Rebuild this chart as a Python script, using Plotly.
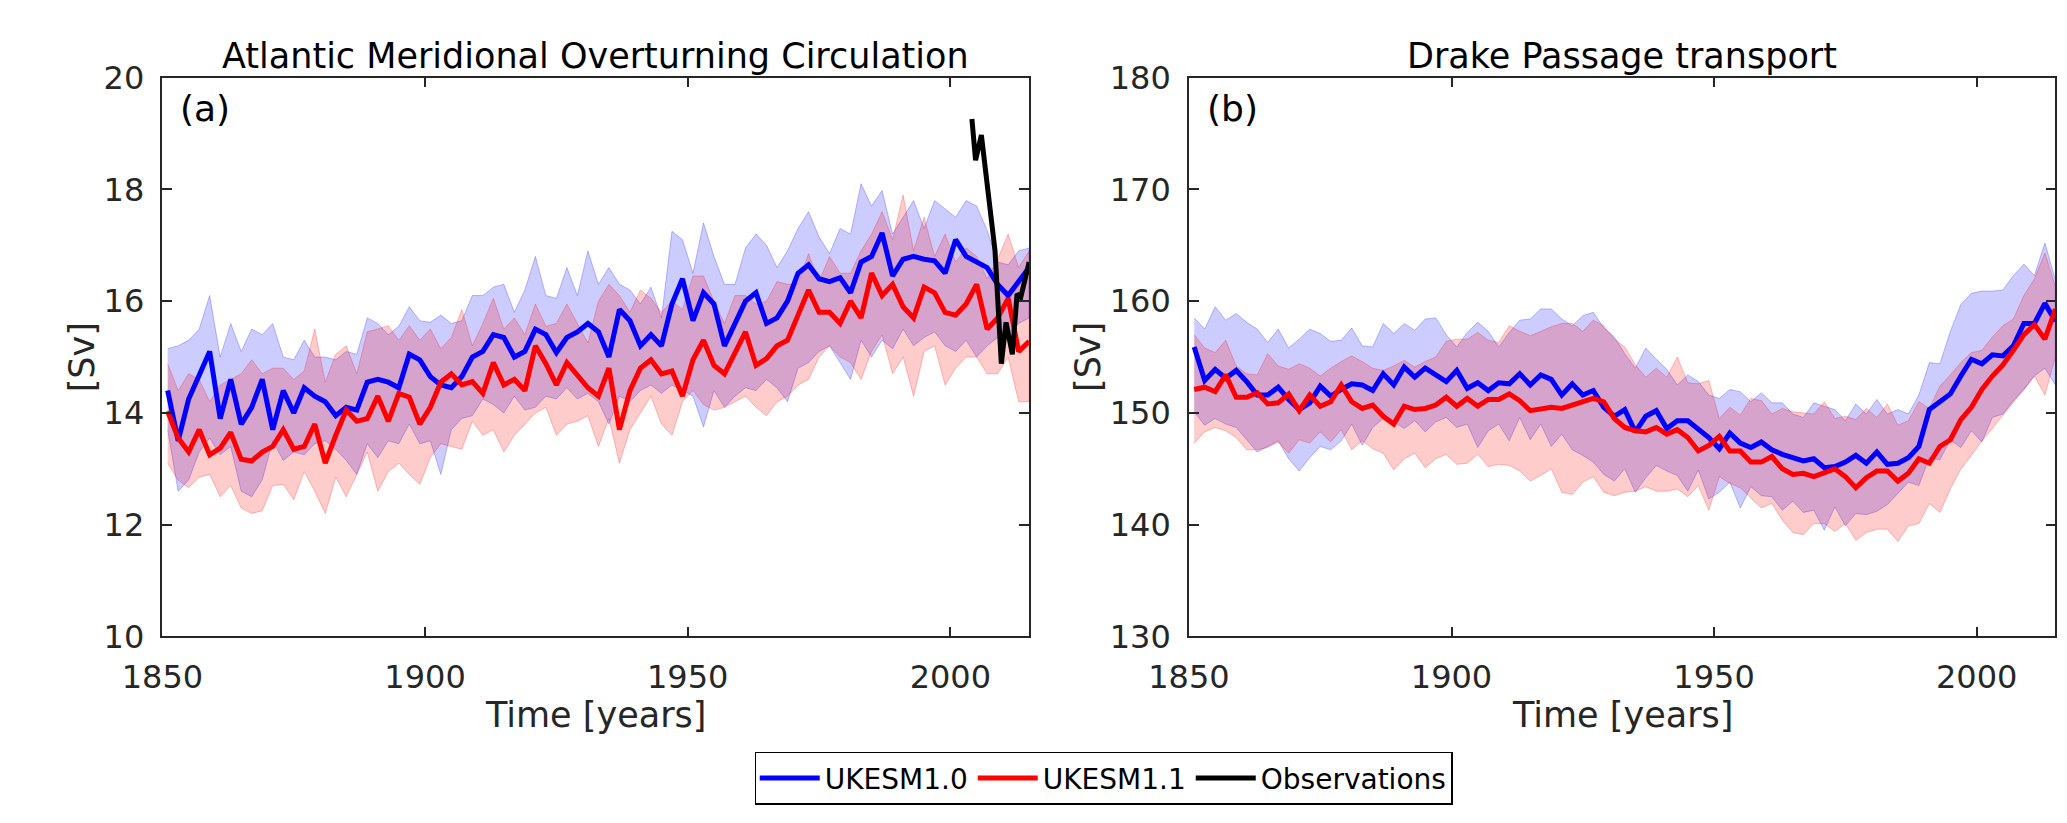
import plotly.graph_objects as go

# years (2-year sampling of the annual series)
years = list(range(1851, 2016, 2))

# --- (a) AMOC [Sv] ---
amoc_ukesm10 = [14.40, 13.5, 14.25, 14.65, 15.1, 13.9, 14.6, 13.8, 14.1, 14.6, 13.7, 14.4, 14.0, 14.45, 14.3,
                14.2, 13.95, 14.1, 14.05, 14.55, 14.6, 14.55, 14.45, 15.05, 14.95, 14.65, 14.5, 14.45, 14.65,
                15.0, 15.1, 15.4, 15.35, 15.0, 15.1, 15.5, 15.4, 15.08, 15.35, 15.45, 15.6,
                15.45, 15.0, 15.85, 15.65, 15.2, 15.4, 15.2, 15.95, 16.4, 15.65, 16.15, 15.95, 15.2, 15.6,
                16.0, 16.15, 15.6, 15.7, 16.0, 16.5, 16.65, 16.4, 16.35, 16.42, 16.15, 16.7, 16.8, 17.22,
                16.45, 16.75, 16.8, 16.75, 16.72, 16.5, 17.1, 16.8, 16.7, 16.6, 16.3, 16.1, 16.35, 16.6]
amoc_ukesm10_hi = [15.15, 15.2, 15.3, 15.5, 16.1, 15.0, 15.6, 15.1, 15.5, 15.4, 15.6, 15.0, 14.95, 15.3, 15.0,
                   15.0, 14.95, 15.1, 15.05, 15.7, 15.6, 15.4, 15.55, 15.9, 15.65, 15.62, 15.75, 15.6, 15.65,
                   16.1, 16.1, 16.25, 16.3, 15.8, 16.2, 16.8, 16.1, 16.05, 16.6, 16.1, 16.9,
                   16.3, 16.6, 16.3, 16.2, 15.95, 16.25, 15.7, 17.25, 17.1, 16.5, 17.4, 16.8, 16.3, 16.3,
                   16.95, 17.2, 17.0, 16.6, 16.9, 17.3, 17.6, 17.15, 16.85, 17.3, 17.2, 18.1, 17.7, 17.98,
                   17.2, 17.5, 17.8, 17.3, 17.8, 17.65, 17.5, 17.8, 17.7, 17.27, 16.7, 16.65, 16.9, 16.95]
amoc_ukesm10_lo = [13.7, 12.6, 12.8, 13.3, 13.55, 13.25, 13.4, 12.6, 12.5, 12.8, 13.5, 13.15, 13.3, 13.25, 13.45,
                   13.5, 13.35, 13.15, 12.9, 13.45, 13.2, 13.5, 13.45, 13.8, 13.45, 13.5, 12.9, 13.7, 13.9,
                   13.95, 14.25, 14.15, 14.0, 14.3, 14.05, 14.1, 14.3, 14.25, 14.45, 14.25, 14.35,
                   14.2, 13.8, 14.3, 14.2, 14.4, 14.5, 14.35, 14.5, 14.4, 14.3, 13.75, 14.4, 14.1, 14.3,
                   14.45, 14.4, 14.6, 14.45, 14.2, 14.8, 14.9, 15.1, 15.2, 14.9, 14.6, 15.3, 15.0, 15.3,
                   15.15, 15.5, 15.2, 15.35, 15.45, 15.2, 15.1, 15.3, 15.0, 15.2, 15.35, 15.4, 15.6, 15.7]
amoc_ukesm11 = [14.03, 13.55, 13.3, 13.7, 13.25, 13.37, 13.65, 13.17, 13.14, 13.3, 13.4, 13.7, 13.35, 13.4, 13.8,
                13.1, 13.6, 14.05, 13.85, 13.9, 14.3, 13.85, 14.35, 14.28, 13.8, 14.1, 14.55, 14.7, 14.5,
                14.56, 14.35, 14.9, 14.5, 14.6, 14.4, 15.2, 14.88, 14.5, 14.9, 14.68, 14.45,
                14.3, 14.8, 13.7, 14.4, 14.8, 14.95, 14.7, 14.75, 14.3, 14.95, 15.3, 14.85, 14.7, 15.1,
                15.45, 14.85, 14.97, 15.2, 15.3, 15.75, 16.2, 15.8, 15.8, 15.6, 16.0, 15.7, 16.5, 16.1,
                16.3, 15.9, 15.7, 16.25, 16.15, 15.8, 15.75, 15.95, 16.3, 15.5, 15.7, 16.05, 15.1, 15.28]
amoc_ukesm11_hi = [14.88, 14.4, 14.7, 14.6, 14.2, 14.5, 14.6, 14.7, 14.95, 14.7, 14.8, 14.8, 14.6, 14.75, 15.5,
                   14.55, 15.05, 15.2, 14.7, 15.45, 15.5, 15.56, 15.3, 15.56, 15.3, 15.5, 15.15, 15.35, 15.85,
                   15.2, 15.6, 16.05, 15.5, 15.7, 15.4, 15.95, 15.55, 15.6, 15.95, 15.6, 15.25,
                   16.0, 16.3, 16.1, 15.8, 16.2, 16.05, 15.8, 16.0, 15.85, 16.45, 16.45, 16.0, 15.6, 16.1,
                   16.1, 15.95, 16.0, 16.35, 16.3, 16.3, 16.85, 16.35, 16.8, 16.5, 16.5, 16.9, 17.2, 17.6,
                   17.1, 17.9, 16.9, 17.5, 16.8, 17.2, 16.7, 16.95, 16.8, 16.4, 16.75, 17.2, 16.6, 16.9]
amoc_ukesm11_lo = [13.1, 12.8, 12.66, 12.85, 12.9, 12.5, 12.7, 12.3, 12.2, 12.25, 12.7, 12.72, 12.45, 12.95, 12.6,
                   12.2, 12.85, 12.5, 12.9, 13.3, 12.6, 12.95, 13.1, 12.9, 12.72, 13.2, 13.45, 13.4, 13.35,
                   13.85, 13.6, 13.7, 13.3, 13.6, 13.8, 14.0, 14.1, 13.6, 13.8, 13.85, 13.95,
                   13.4, 13.9, 13.1, 13.7, 14.0, 14.3, 13.8, 13.6, 14.2, 14.4, 14.15, 14.05, 14.1, 14.2,
                   14.3, 14.1, 13.95, 14.2, 14.3, 14.5, 14.6, 15.0, 15.2, 15.0, 14.9, 14.6, 15.1, 15.4,
                   14.7, 15.0, 14.3, 15.1, 15.2, 14.5, 14.8, 15.0, 15.0, 14.7, 14.7, 15.0, 14.2, 14.2]

# RAPID observations
obs_years = [2004.1, 2004.8, 2005.9, 2007.3, 2008.5, 2009.7, 2010.6, 2011.8, 2012.7, 2013.4, 2015.0]
obs_amoc = [19.26, 18.52, 18.97, 17.9, 16.9, 14.88, 15.62, 15.05, 16.13, 16.07, 16.7]

# --- (b) Drake Passage transport [Sv] ---
drake_ukesm10 = [155.9, 152.9, 153.9, 153.1, 153.8, 152.8, 151.6, 151.6, 152.3, 151.2, 150.3, 150.9, 152.4, 151.5,
                 152.1, 152.6, 152.5, 152.0, 153.5, 152.5, 154.1, 153.2, 154.0, 153.4, 152.8, 153.8, 152.2, 152.7,
                 152.0, 152.7, 152.6, 153.5, 152.5, 153.4, 153.0, 151.6, 152.6, 151.6, 152.0, 150.5, 149.7,
                 150.3, 148.3, 149.7, 150.2, 148.6, 149.3, 149.3, 148.6, 147.8, 146.8, 148.2, 147.3, 146.9, 147.4,
                 146.7, 146.3, 146.0, 145.7, 145.9, 145.1, 145.2, 145.6, 146.2, 145.5, 146.5, 145.4, 145.5, 146.0,
                 147.0, 150.3, 151.0, 151.7, 153.3, 154.8, 154.4, 155.2, 155.1, 156.0, 158.0, 158.0, 159.8, 158.2]
drake_ukesm10_hi = [158.5, 157.5, 159.5, 158.3, 158.9, 158.1, 157.5, 156.3, 157.5, 155.8, 156.6, 157.5, 157.1, 156.4,
                    156.5, 157.6, 156.0, 155.9, 158.0, 157.1, 158.0, 157.4, 158.4, 158.5, 157.0, 155.9, 157.2, 158.1,
                    157.3, 155.9, 157.2, 158.3, 158.4, 159.3, 159.3, 158.4, 157.8, 158.7, 159.0, 157.6, 156.8,
                    155.3, 154.0, 155.8, 154.8, 153.9, 152.5, 153.4, 152.8, 151.6, 151.3, 152.1, 151.9, 151.0, 151.8,
                    150.9, 150.9, 149.9, 149.6, 150.9, 150.6, 150.3, 149.3, 150.8, 149.9, 151.2, 149.9, 150.3, 149.9,
                    151.6, 154.5, 154.4, 157.3, 159.7, 160.7, 160.9, 160.9, 161.0, 162.3, 163.3, 162.3, 165.2, 161.9]
drake_ukesm10_lo = [150.1, 148.9, 149.5, 149.0, 148.7, 147.6, 146.5, 147.0, 147.5, 145.9, 144.8, 146.0, 147.0, 146.7,
                    147.5, 149.0, 147.1, 148.7, 149.5, 149.2, 148.6, 149.3, 148.3, 149.2, 149.6, 148.7, 149.0, 146.9,
                    148.4, 149.0, 147.5, 149.6, 147.6, 149.0, 147.0, 148.1, 146.7, 146.2, 145.6, 144.5, 143.9,
                    145.0, 142.9, 144.2, 145.3, 144.8, 144.4, 143.0, 144.9, 142.3, 142.9, 143.8, 141.5, 143.4, 142.6,
                    142.5, 141.3, 142.1, 141.1, 141.3, 139.5, 141.6, 139.9, 141.0, 140.9, 141.2, 141.8, 142.8, 143.8,
                    143.5, 146.0, 145.8, 147.6, 146.9, 148.4, 147.4, 149.6, 149.9, 151.1, 152.1, 153.3, 154.0, 152.5]
drake_ukesm11 = [152.1, 152.3, 151.9, 153.4, 151.4, 151.4, 151.8, 150.8, 150.9, 151.7, 150.2, 151.6, 150.6, 151.0,
                 152.5, 151.0, 150.4, 150.7, 149.7, 149.0, 150.6, 150.3, 150.4, 150.7, 151.4, 150.6, 151.3, 150.6,
                 151.2, 151.2, 151.7, 151.1, 150.2, 150.4, 150.5, 150.4, 150.7, 151.0, 151.3, 151.0, 149.5,
                 148.7, 148.4, 148.3, 148.7, 148.1, 148.5, 147.8, 146.6, 147.1, 147.9, 146.6, 146.6, 145.6, 145.6,
                 146.1, 145.0, 144.5, 144.6, 144.3, 144.7, 145.0, 144.3, 143.3, 144.2, 144.8, 144.8, 143.9, 144.6,
                 145.9, 145.5, 147.0, 147.6, 149.4, 150.5, 152.1, 153.3, 154.3, 155.6, 157.0, 157.9, 156.6, 159.3]
drake_ukesm11_hi = [157.0, 155.8, 155.4, 156.5, 154.2, 153.5, 153.4, 155.3, 154.2, 153.9, 154.4, 154.0, 153.3, 154.0,
                    154.6, 155.1, 154.6, 154.0, 153.8, 154.2, 154.7, 154.1, 154.6, 155.0, 156.4, 156.6, 156.6, 157.2,
                    156.5, 156.3, 157.8, 157.3, 156.9, 157.3, 157.7, 158.0, 158.0, 157.3, 158.3, 157.8, 156.6,
                    155.9, 154.3, 153.2, 154.0, 153.2, 155.0, 152.7, 152.6, 152.9, 149.5, 150.5, 149.8, 151.3, 151.1,
                    149.9, 150.4, 150.1, 150.0, 149.9, 151.0, 149.5, 149.7, 149.4, 150.4, 149.6, 150.8, 148.9, 149.3,
                    151.0, 150.4, 152.4, 153.4, 154.5, 155.4, 155.6, 156.8, 157.8, 158.4, 160.5, 162.0, 164.3, 161.3]
drake_ukesm11_lo = [147.3, 148.3, 148.7, 148.4, 147.8, 146.7, 146.7, 146.9, 147.4, 146.4, 147.6, 147.3, 148.3, 147.4,
                    148.5, 146.7, 147.5, 146.8, 146.4, 144.9, 145.9, 146.4, 145.1, 145.9, 146.3, 145.4, 145.5, 146.3,
                    145.2, 145.4, 145.3, 144.8, 143.9, 144.4, 145.0, 142.9, 142.7, 143.8, 144.3, 142.9, 142.6,
                    142.9, 143.0, 143.4, 143.0, 143.0, 143.2, 142.5, 143.5, 141.3, 144.3, 143.7, 143.3, 142.4, 141.5,
                    141.9, 140.4, 139.3, 139.1, 140.1, 140.1, 139.4, 140.1, 138.6, 139.3, 139.6, 139.6, 138.5, 139.9,
                    140.1, 141.9, 141.1, 143.2, 145.0, 146.2, 147.5, 148.6, 149.8, 151.0, 152.1, 153.3, 151.6, 155.0]

BLUE = "#0000ff"
RED = "#ff0000"
TXT = "#262626"
FONT = "DejaVu Sans"

fig = go.Figure()


def add_band(lo, hi, fill, edge, xa, ya):
    fig.add_trace(go.Scatter(
        x=years + years[::-1], y=hi + lo[::-1], fill="toself", fillcolor=fill,
        mode="lines", line=dict(color=edge, width=1), hoverinfo="skip",
        showlegend=False, xaxis=xa, yaxis=ya))


def add_line(y, color, name, xa, ya, show):
    fig.add_trace(go.Scatter(
        x=years, y=y, mode="lines", line=dict(color=color, width=5),
        name=name, legendgroup=name, showlegend=show, xaxis=xa, yaxis=ya))


# panel (a)
add_band(amoc_ukesm10_lo, amoc_ukesm10_hi, "rgba(0,0,255,0.2)", "rgba(0,0,255,0.25)", "x", "y")
add_band(amoc_ukesm11_lo, amoc_ukesm11_hi, "rgba(255,0,0,0.2)", "rgba(255,0,0,0.25)", "x", "y")
add_line(amoc_ukesm10, BLUE, "UKESM1.0", "x", "y", True)
add_line(amoc_ukesm11, RED, "UKESM1.1", "x", "y", True)
fig.add_trace(go.Scatter(x=obs_years, y=obs_amoc, mode="lines", line=dict(color="black", width=5),
                         name="Observations", showlegend=True, xaxis="x", yaxis="y"))

# panel (b)
add_band(drake_ukesm10_lo, drake_ukesm10_hi, "rgba(0,0,255,0.2)", "rgba(0,0,255,0.25)", "x2", "y2")
add_band(drake_ukesm11_lo, drake_ukesm11_hi, "rgba(255,0,0,0.2)", "rgba(255,0,0,0.25)", "x2", "y2")
add_line(drake_ukesm10, BLUE, "UKESM1.0", "x2", "y2", False)
add_line(drake_ukesm11, RED, "UKESM1.1", "x2", "y2", False)

W, H = 2067, 823
dom_x1 = [115.7 / W, 1000 / W]
dom_x2 = [1163 / W, 2047 / W]
dom_y = [(H - 639) / H, (H - 53) / H]

axis_common = dict(showline=True, linecolor=TXT, linewidth=1.5, mirror="ticks", ticks="inside",
                   ticklen=10, tickwidth=1.5, tickcolor=TXT, showgrid=False, zeroline=False,
                   tickfont=dict(family=FONT, size=32, color=TXT))

fig.update_layout(
    width=W, height=H, margin=dict(l=0, r=0, t=0, b=0),
    paper_bgcolor="white", plot_bgcolor="white",
    font=dict(family=FONT, color=TXT),
    xaxis=dict(domain=dom_x1, range=[1850, 2015], tickvals=[1850, 1900, 1950, 2000], anchor="y",
               ticklabelstandoff=11, **axis_common),
    yaxis=dict(domain=dom_y, range=[10, 20], tickvals=[10, 12, 14, 16, 18, 20], anchor="x",
               ticklabelstandoff=10, **axis_common),
    xaxis2=dict(domain=dom_x2, range=[1850, 2015], tickvals=[1850, 1900, 1950, 2000], anchor="y2",
                ticklabelstandoff=11, **axis_common),
    yaxis2=dict(domain=dom_y, range=[130, 180], tickvals=[130, 140, 150, 160, 170, 180], anchor="x2",
                ticklabelstandoff=10, **axis_common),
    legend=dict(orientation="h", x=0.5206, xanchor="center", y=(H - 760) / H, yanchor="top",
                bordercolor="black", borderwidth=1.5, bgcolor="white",
                font=dict(family=FONT, size=28, color="black"), itemwidth=60),
    showlegend=True,
)

ann = []
titles = [("Atlantic Meridional Overturning Circulation", dom_x1), ("Drake Passage transport", dom_x2)]
for text, dx in titles:
    ann.append(dict(text=text, x=(dx[0] + dx[1]) / 2, y=dom_y[1], xref="paper", yref="paper",
                    xanchor="center", yanchor="bottom", showarrow=False,
                    font=dict(family=FONT, size=35, color="black")))
    ann.append(dict(text="Time [years]", x=(dx[0] + dx[1]) / 2, y=(H - 698) / H, xref="paper", yref="paper",
                    xanchor="center", yanchor="top", showarrow=False,
                    font=dict(family=FONT, size=35, color=TXT)))
for xpix in (34, 1060):
    ann.append(dict(text="[Sv]", x=xpix / W, y=(H - 346) / H, xref="paper", yref="paper", textangle=-90,
                    xanchor="center", yanchor="middle", showarrow=False,
                    font=dict(family=FONT, size=35, color=TXT)))
for label, xa in (("(a)", "x"), ("(b)", "x2")):
    ann.append(dict(text=label, x=0.018, y=0.985, xref=f"{xa} domain", yref="y domain", xanchor="left",
                    yanchor="top", showarrow=False, font=dict(family=FONT, size=36, color="black")))
fig.update_layout(annotations=ann)

fig.write_html("out.html")
